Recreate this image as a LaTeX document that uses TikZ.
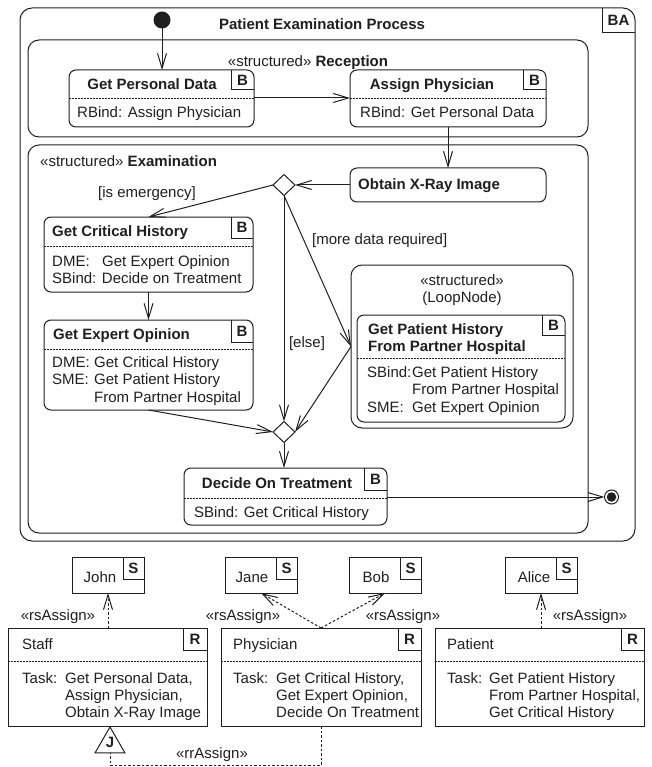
\documentclass[tikz,border=0pt]{standalone}
\usepackage{fontspec}
\setmainfont{Liberation Sans}
\usetikzlibrary{arrows.meta,shapes.geometric,calc}
\definecolor{ink}{gray}{0.12}
\newcommand\myfs{\fontsize{15}{17}\selectfont}
\newcommand\mybf{\fontsize{15}{17}\selectfont\bfseries}
\tikzset{
  abox/.style={draw=ink, line width=1pt, rounded corners=7pt, inner sep=0pt, outer sep=0pt},
  bigbox/.style={abox, rounded corners=11pt},
  rbox/.style={draw=ink, line width=1pt, inner sep=0pt, outer sep=0pt},
  tabline/.style={draw=ink, line width=1pt},
  sepline/.style={draw=ink, line width=0.7pt, dash pattern=on 1.6pt off 1.4pt},
  arr/.style={draw=ink, line width=1pt, -{Straight Barb[length=15pt,width=9pt]}},
  darr/.style={arr, dash pattern=on 2.5pt off 2pt},
  dline/.style={draw=ink, line width=1pt, dash pattern=on 2.5pt off 2pt},
  txt/.style={anchor=base west, inner sep=0pt, text=ink, font=\myfs},
  ctxt/.style={anchor=base, inner sep=0pt, text=ink, font=\myfs},
  btxt/.style={txt, font=\mybf},
  bctxt/.style={ctxt, font=\mybf},
  tabtxt/.style={inner sep=0pt, font=\mybf, text=ink},
  decis/.style={diamond, draw=ink, line width=1pt, minimum width=22pt, minimum height=21pt, inner sep=0pt, outer sep=0pt},
}
% #1 node, #2 tab width, #3 tab height, #4 letter, #5 name of letter node
\newcommand\mytab[5]{%
  \draw[tabline] ($(#1.north east)+(-#2,0)$) |- ($(#1.north east)+(0,#3)$);
  \node[tabtxt] (#5) at ($(#1.north east)+(-#2/2,#3/2)$) {#4};}
\begin{document}
\begin{tikzpicture}[x=1pt,y=-1pt]
\useasboundingbox (0,0) rectangle (651,767);

% outer frame
\node[bigbox, rounded corners=12pt, minimum width=615, minimum height=533, anchor=north west] (frame) at (20,8) {};
\mytab{frame}{33}{25}{BA}{frameBA}
\node[bctxt] (ftitle) at (322,30) {Patient Examination Process};
\node[circle, fill=ink, minimum size=17, inner sep=0pt, outer sep=0pt] (init) at (162,20) {};

% Reception
\node[bigbox, minimum width=560, minimum height=97, anchor=north west] (rec) at (28,40) {};
\node[ctxt] (rectitle) at (308,67) {«structured» \textbf{Reception}};

\node[abox, minimum width=185, minimum height=57, anchor=north west] (gpd) at (69,70) {};
\draw[sepline] (gpd.west |- 0,98) -- (gpd.east |- 0,98);
\mytab{gpd}{23}{20}{B}{gpdB}
\node[bctxt] (gpdt) at (152,90) {Get Personal Data};
\node[txt] (gpdb) at (77,118) {RBind: Assign Physician};

\node[abox, minimum width=196, minimum height=57, anchor=north west] (ap) at (350,70) {};
\draw[sepline] (ap.west |- 0,98) -- (ap.east |- 0,98);
\mytab{ap}{23}{20}{B}{apB}
\node[bctxt] (apt) at (432,90) {Assign Physician};
\node[txt] (apb) at (360,118) {RBind: Get Personal Data};

% Examination
\node[bigbox, minimum width=560, minimum height=388, anchor=north west] (exam) at (28,145) {};
\node[txt] (examtitle) at (40,167) {«structured» \textbf{Examination}};

\node[abox, minimum width=196, minimum height=34, anchor=north west] (oxr) at (350,168) {};
\node[btxt] (oxrt) at (358,190) {Obtain X-Ray Image};

\node[decis] (d1) at (284,185) {};
\node[ctxt] (emerg) at (147,198) {[is emergency]};
\node[txt] (more) at (312,244) {[more data required]};

\node[abox, minimum width=209, minimum height=75, anchor=north west] (gch) at (44,217) {};
\draw[sepline] (gch.west |- 0,246) -- (gch.east |- 0,246);
\mytab{gch}{22}{21}{B}{gchB}
\node[btxt] (gcht) at (52,236) {Get Critical History};
\node[txt] (gch1a) at (52,266) {DME:};
\node[txt] (gch1b) at (102,266) {Get Expert Opinion};
\node[txt] (gch2) at (52,283) {SBind: Decide on Treatment};

\node[abox, minimum width=209, minimum height=90, anchor=north west] (geo) at (44,320) {};
\draw[sepline] (geo.west |- 0,349) -- (geo.east |- 0,349);
\mytab{geo}{22}{22}{B}{geoB}
\node[btxt] (geot) at (53,339) {Get Expert Opinion};
\node[txt] (geo1a) at (52,367) {DME:};
\node[txt] (geo1b) at (94,367) {Get Critical History};
\node[txt] (geo2a) at (52,384) {SME:};
\node[txt] (geo2b) at (94,384) {Get Patient History};
\node[txt] (geo3) at (94,402) {From Partner Hospital};

\node[ctxt] (elselbl) at (307,347) {[else]};

\node[bigbox, minimum width=222, minimum height=163, anchor=north west] (loop) at (351,265) {};
\node[ctxt] (loopt1) at (462,285) {«structured»};
\node[ctxt] (loopt2) at (462,302) {(LoopNode)};

\node[abox, minimum width=208, minimum height=107, anchor=north west] (gph) at (357,315) {};
\draw[sepline] (gph.west |- 0,358) -- (gph.east |- 0,358);
\mytab{gph}{23}{20}{B}{gphB}
\node[btxt] (gpht1) at (368,334) {Get Patient History};
\node[btxt] (gpht2) at (368,351) {From Partner Hospital};
\node[txt] (gph1a) at (367,377) {SBind:};
\node[txt] (gph1b) at (412,377) {Get Patient History};
\node[txt] (gph2) at (412,394) {From Partner Hospital};
\node[txt] (gph3a) at (367,412) {SME:};
\node[txt] (gph3b) at (412,412) {Get Expert Opinion};

\node[decis] (d2) at (284,432) {};

\node[abox, minimum width=203, minimum height=57, anchor=north west] (dot) at (184,468) {};
\draw[sepline] (dot.west |- 0,498) -- (dot.east |- 0,498);
\mytab{dot}{23}{22}{B}{dotB}
\node[bctxt] (dott) at (277,488) {Decide On Treatment};
\node[txt] (dotb) at (194,517) {SBind: Get Critical History};

\node[circle, draw=ink, line width=1pt, minimum size=14, inner sep=0pt, outer sep=0pt] (final) at (611.5,497) {};
\node[circle, fill=ink, minimum size=9.5, inner sep=0pt] (finaldot) at (final.center) {};

% flow connectors
\draw[arr] (init) -- (gpd.north -| init);
\draw[arr] (gpd.east |- 0,98) -- (ap.west |- 0,98);
\draw[arr] (ap.south) -- (oxr.north);
\draw[arr] (oxr.west) -- (d1.east);
\draw[arr] (d1.west) -- (gch.north);
\draw[arr] (gch.south) -- (geo.north);
\draw[arr] (geo.south) -- (d2.west);
\draw[arr] (d1.south) -- (d2.north);
\draw[arr] (d1.south) -- (loop.west);
\draw[arr] (loop.west) -- (d2.east);
\draw[arr] (d2.south) -- (d2.south |- dot.north);
\draw[arr] (dot.east |- final) -- (final.west);

% resources
\node[rbox, minimum width=72, minimum height=36, anchor=north west] (john) at (72,557) {};
\mytab{john}{21}{22}{S}{johnS}
\node[ctxt] (johnt) at (100,582) {John};
\node[rbox, minimum width=72, minimum height=36, anchor=north west] (jane) at (225,557) {};
\mytab{jane}{21}{22}{S}{janeS}
\node[ctxt] (janet) at (252,582) {Jane};
\node[rbox, minimum width=72, minimum height=36, anchor=north west] (bob) at (349,557) {};
\mytab{bob}{21}{22}{S}{bobS}
\node[ctxt] (bobt) at (376,582) {Bob};
\node[rbox, minimum width=72, minimum height=36, anchor=north west] (alice) at (505,557) {};
\mytab{alice}{21}{22}{S}{aliceS}
\node[ctxt] (alicet) at (534,582) {Alice};

\node[rbox, minimum width=199, minimum height=98, anchor=north west] (staff) at (8,628) {};
\draw[sepline] (staff.west |- 0,661) -- (staff.east |- 0,661);
\mytab{staff}{24}{22}{R}{staffR}
\node[txt] (stafft) at (22,649) {Staff};
\node[txt] (staff1a) at (22,683) {Task:};
\node[txt] (staff1b) at (65,683) {Get Personal Data,};
\node[txt] (staff2) at (65,700) {Assign Physician,};
\node[txt] (staff3) at (65,717) {Obtain X-Ray Image};

\node[rbox, minimum width=200, minimum height=98, anchor=north west] (phys) at (221,628) {};
\draw[sepline] (phys.west |- 0,661) -- (phys.east |- 0,661);
\mytab{phys}{23}{22}{R}{physR}
\node[txt] (physt) at (233,649) {Physician};
\node[txt] (phys1a) at (233,683) {Task:};
\node[txt] (phys1b) at (276,683) {Get Critical History,};
\node[txt] (phys2) at (276,700) {Get Expert Opinion,};
\node[txt] (phys3) at (276,717) {Decide On Treatment};

\node[rbox, minimum width=209, minimum height=98, anchor=north west] (pat) at (435,628) {};
\draw[sepline] (pat.west |- 0,661) -- (pat.east |- 0,661);
\mytab{pat}{23}{22}{R}{patR}
\node[txt] (patt) at (447,649) {Patient};
\node[txt] (pat1a) at (447,683) {Task:};
\node[txt] (pat1b) at (489,683) {Get Patient History};
\node[txt] (pat2) at (489,700) {From Partner Hospital,};
\node[txt] (pat3) at (489,717) {Get Critical History};

% rsAssign
\draw[darr] (john.south |- staff.north) -- (john.south);
\draw[darr] (phys.north) -- (jane.south);
\draw[darr] (phys.north) -- (bob.south);
\draw[darr] (alice.south |- pat.north) -- (alice.south);
\node[ctxt] (rs1) at (58,620) {«rsAssign»};
\node[ctxt] (rs2) at (243,620) {«rsAssign»};
\node[ctxt] (rs3) at (403,620) {«rsAssign»};
\node[ctxt] (rs4) at (590,620) {«rsAssign»};

% rrAssign with J triangle
\node[regular polygon, regular polygon sides=3, draw=ink, line width=1pt, minimum size=34.6, inner sep=0pt, outer sep=0pt] (tri) at (110,744.3) {};
\node[bctxt] (triJ) at (110,747) {J};
\draw[dline] (phys.south) -- (phys.south |- 0,765) -| (tri.south);
\node[ctxt] (rr) at (212,758) {«rrAssign»};
\end{tikzpicture}
\end{document}
